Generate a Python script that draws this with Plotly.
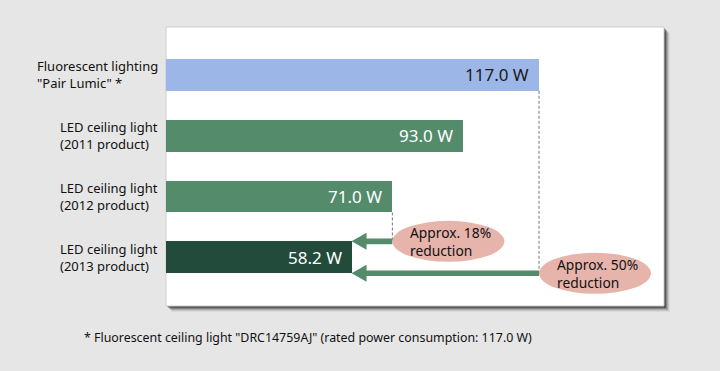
import plotly.graph_objects as go

categories = ['Fluorescent lighting<br>"Pair Lumic" *',
              'LED ceiling light<br>(2011 product)',
              'LED ceiling light<br>(2012 product)',
              'LED ceiling light<br>(2013 product)']
values = [117.0, 93.0, 71.0, 58.2]
value_labels = ["117.0 W", "93.0 W", "71.0 W", "58.2 W"]
bar_colors = ["#9db6e8", "#538b6b", "#538b6b", "#234b3c"]
label_colors = ["#1a1a1a", "#ffffff", "#ffffff", "#ffffff"]
reduction_labels = ["Approx. 18%<br>reduction", "Approx. 50%<br>reduction"]
footnote = '* Fluorescent ceiling light "DRC14759AJ" (rated power consumption: 117.0 W)'

W, H = 720, 371
ML, MR, MT, MB = 166, 56, 27, 65
XMAX = 156.2
YTOP, YBOT = -0.787, 3.80
pw, ph = W - ML - MR, H - MT - MB
px_per_x = pw / XMAX
px_per_y = ph / (YBOT - YTOP)
BW = 0.525
FONT = "Noto Sans"

ypos = list(range(len(categories)))

fig = go.Figure()
fig.add_trace(go.Bar(
    x=values, y=ypos, orientation="h", width=BW,
    marker=dict(color=bar_colors, line=dict(width=0)),
    hoverinfo="skip", showlegend=False,
))

shapes = []
# panel shadow + panel (paper coords)
for off, col in [(6, "rgba(0,0,0,0.05)"), (5, "rgba(0,0,0,0.09)"), (4, "rgba(0,0,0,0.15)"),
                 (3, "rgba(0,0,0,0.22)"), (2, "rgba(0,0,0,0.3)"), (1, "rgba(0,0,0,0.35)")]:
    shapes.append(dict(type="rect", xref="paper", yref="paper", layer="below",
                       x0=off / pw, x1=1 + off / pw, y0=-off / ph, y1=1 - off / ph,
                       fillcolor=col, line=dict(width=0)))
shapes.append(dict(type="rect", xref="paper", yref="paper", layer="below",
                   x0=0, x1=1, y0=0, y1=1, fillcolor="white",
                   line=dict(width=1, color="#cfcfcf")))

# dashed guide lines
shapes.append(dict(type="line", x0=values[0], x1=values[0], y0=ypos[0] + BW / 2, y1=ypos[3] + BW / 2,
                   line=dict(color="#777777", width=1, dash="3px,2px")))
shapes.append(dict(type="line", x0=values[2], x1=values[2], y0=ypos[2] + BW / 2, y1=ypos[3] - BW / 2,
                   line=dict(color="#777777", width=1, dash="3px,2px")))

arrow_col = "#538b6b"
head_len = 15 / px_per_x
head_half = 8.5 / px_per_y
shaft_half = 2.8 / px_per_y
ell_w = 112 / px_per_x
ell_h = 20.5 / px_per_y

for src, yv, lab in [(values[2], ypos[3] - BW / 2, reduction_labels[0]),
                     (values[0], ypos[3] + BW / 2, reduction_labels[1])]:
    tip = values[3]
    path = (f"M {tip},{yv} L {tip + head_len},{yv - head_half} L {tip + head_len},{yv - shaft_half} "
            f"L {src},{yv - shaft_half} L {src},{yv + shaft_half} L {tip + head_len},{yv + shaft_half} "
            f"L {tip + head_len},{yv + head_half} Z")
    shapes.append(dict(type="path", path=path, fillcolor=arrow_col, line=dict(width=0)))
    shapes.append(dict(type="circle", x0=src, x1=src + ell_w, y0=yv - ell_h, y1=yv + ell_h,
                       fillcolor="#e6b4ab", line=dict(width=0)))
    fig.add_annotation(x=src, y=yv, xshift=16, text=lab, showarrow=False, xanchor="left",
                       align="left", font=dict(family=FONT, size=13.8, color="#111111"))

for i, c in enumerate(categories):
    fig.add_annotation(x=0, xref="paper", y=ypos[i], xshift=-6, text=c, showarrow=False,
                       xanchor="right", align="left",
                       font=dict(family=FONT, size=13, color="#111111"))
    fig.add_annotation(x=values[i], y=ypos[i], xshift=-8, text=value_labels[i], showarrow=False,
                       xanchor="right", font=dict(family=FONT, size=17, color=label_colors[i]))

fig.add_annotation(x=(82 - ML) / pw, xref="paper", y=(H - MB - 337) / ph, yref="paper",
                   text=footnote, showarrow=False, xanchor="left", yanchor="middle",
                   font=dict(family=FONT, size=12.4, color="#111111"))

fig.update_layout(
    width=W, height=H, margin=dict(l=ML, r=MR, t=MT, b=MB, pad=0),
    paper_bgcolor="#e6e6e6", plot_bgcolor="rgba(0,0,0,0)",
    shapes=shapes, bargap=0,
    xaxis=dict(range=[0, XMAX], visible=False, fixedrange=True),
    yaxis=dict(range=[YBOT, YTOP], visible=False, fixedrange=True),
)
fig.write_html("out.html", config={"displayModeBar": False},
               post_script="document.body.style.margin='0';document.body.style.overflow='hidden';")
